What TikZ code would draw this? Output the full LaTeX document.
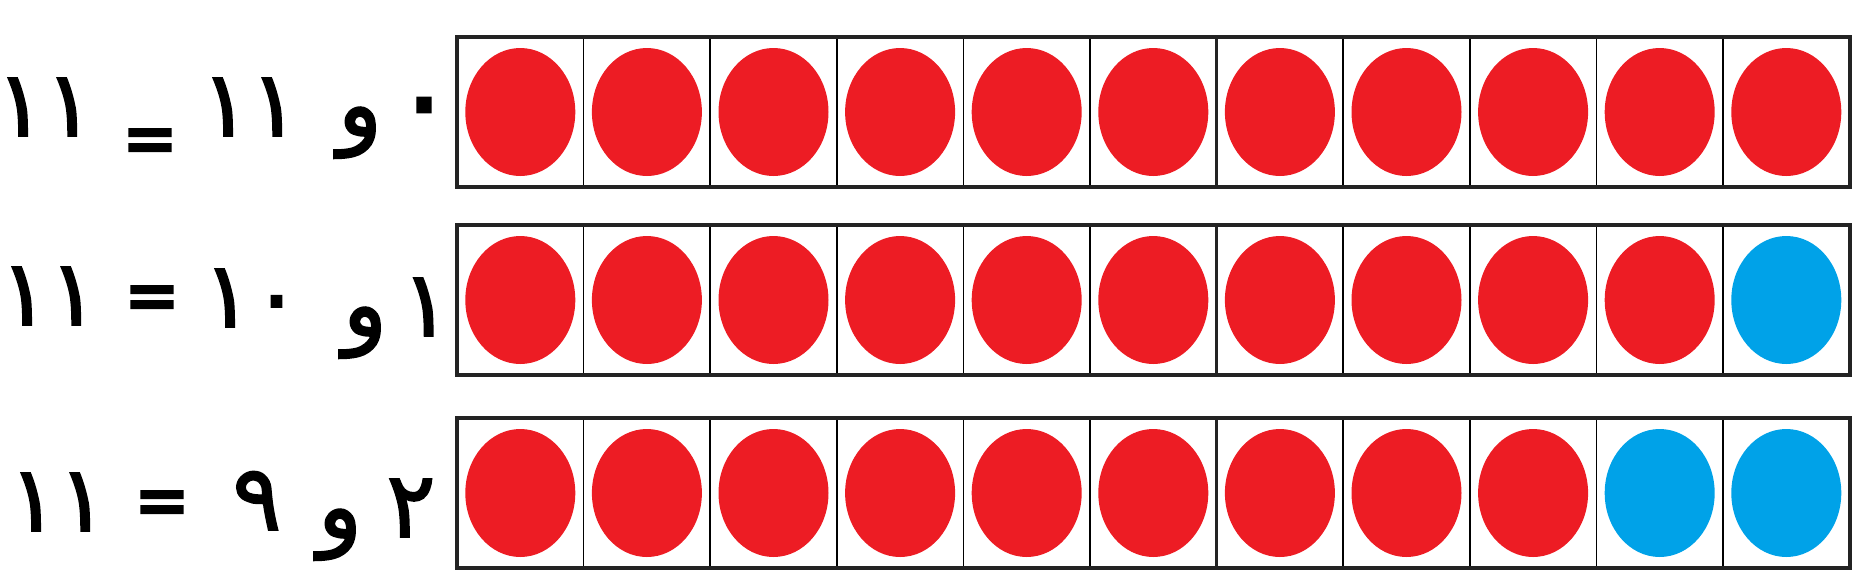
\documentclass[tikz,border=0pt]{standalone}
\usepackage{fontspec}
\usetikzlibrary{positioning}
\newfontfamily\arabicfont[Script=Arabic, FakeBold=2]{DejaVu Sans}
\definecolor{ballred}{RGB}{237,28,36}
\definecolor{ballblue}{RGB}{0,162,232}
\definecolor{framegray}{RGB}{35,35,35}

\begin{document}
\begin{tikzpicture}[
    x=0.01cm, y=-0.01cm,
    cell/.style={draw=black, line width=0.45pt},
    frame/.style={draw=framegray, line width=0.9pt},
    sum/.style={font=\arabicfont\fontsize{26}{30}\selectfont, inner sep=0pt, anchor=base},
    sign/.style={font=\arabicfont\bfseries\fontsize{19}{22}\selectfont, inner sep=0pt, anchor=center}
]
\useasboundingbox (0,0) rectangle (1859,581);

% ten-frames: top edge / number of red counters
\foreach \top/\nred in {37/11, 225/10, 418/9} {
  \foreach \i in {0,...,10} {
    \pgfmathsetmacro{\xl}{457+126.6*\i}
    \ifnum\i<\nred \def\col{ballred}\else\def\col{ballblue}\fi
    \fill[\col] (\xl+63.3,\top+75) ellipse [x radius=55, y radius=64];
    \draw[cell] (\xl,\top) rectangle ++(126.6,150);
  }
  \draw[frame] (457,\top) rectangle (1850,\top+150);
  \draw[frame] (457+6*126.6,\top) -- ++(0,150);
}

% row 1
\node[sum] (tot1) at (45,136) {١١};
\node[sign] (eq1) at (150,145) {=};
\node[sum] (big1) at (250,136) {١١};
\node[sum] (wa1) at (360,136) {و};
\node[sum, anchor=center, scale=1.3] (small1) at (424,118) {٠};

% row 2
\node[sum] (tot2) at (49,325) {١١};
\node[sign] (eq2) at (152,302) {=};
\node[sum] (big2) at (252,327) {١٠};
\node[sum] (wa2) at (365,336) {و};
\node[sum] (small2) at (426,336) {١};

% row 3
\node[sum] (tot3) at (58,531) {١١};
\node[sign] (eq3) at (162,507) {=};
\node[sum] (big3) at (257,530) {٩};
\node[sum] (wa3) at (340,538) {و};
\node[sum] (small3) at (411,537) {٢};
\end{tikzpicture}
\end{document}
